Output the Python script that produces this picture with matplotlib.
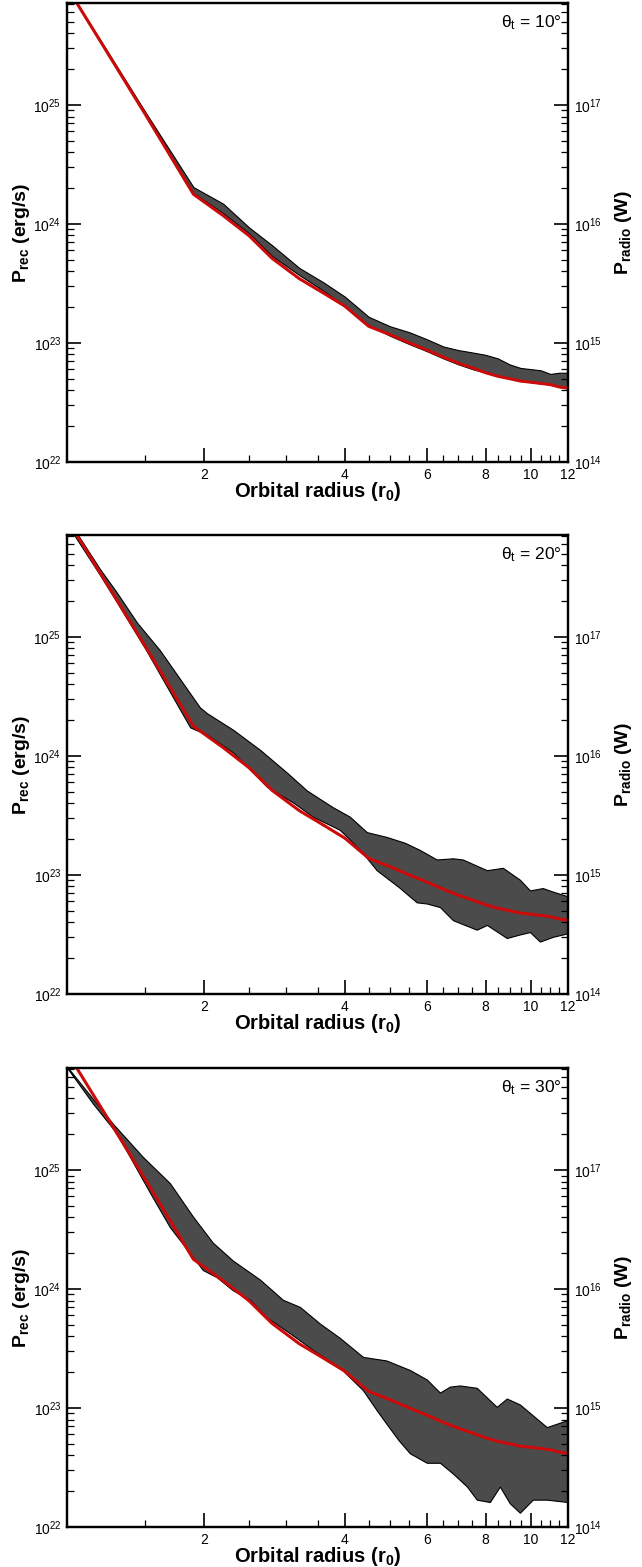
import numpy as np
import matplotlib
matplotlib.use('Agg')
import matplotlib.pyplot as plt
from matplotlib.ticker import FixedLocator, NullFormatter, FuncFormatter, LogLocator

plt.rcParams['font.family'] = ['Liberation Sans', 'DejaVu Sans']
plt.rcParams['mathtext.fontset'] = 'custom'
plt.rcParams['mathtext.rm'] = 'Liberation Sans'
plt.rcParams['mathtext.it'] = 'Liberation Sans:italic'
plt.rcParams['mathtext.bf'] = 'Liberation Sans:bold'

# model curve (red), log10(P_rec / erg s^-1), same in all panels
r_model = [1.02, 1.2, 1.5, 1.9, 2.2, 2.5, 2.8, 3.2, 3.6, 4.0, 4.5, 5.0, 5.5,
           6.0, 6.5, 7.0, 7.5, 8.0, 8.5, 9.0, 9.5, 10.0, 10.5, 11.0, 11.5, 12.0]
logp_model = [25.99, 25.54, 24.92, 24.25, 24.07, 23.90, 23.71, 23.54, 23.42,
              23.31, 23.14, 23.07, 23.00, 22.94, 22.88, 22.83, 22.79, 22.75,
              22.72, 22.70, 22.68, 22.67, 22.66, 22.65, 22.63, 22.62]

# theta_t = 10 deg band (log10 upper / lower)
r_10 = [1.02, 1.2, 1.5, 1.9, 2.2, 2.5, 2.8, 3.2, 3.6, 4.0, 4.5, 5.0, 5.5,
        6.0, 6.5, 7.0, 7.5, 8.0, 8.5, 9.0, 9.5, 10.0, 10.5, 11.0, 11.5, 12.0]
hi_10 = [25.99, 25.55, 24.94, 24.31, 24.17, 23.97, 23.82, 23.63, 23.51, 23.39,
         23.22, 23.14, 23.09, 23.03, 22.97, 22.94, 22.92, 22.90, 22.87, 22.82,
         22.79, 22.78, 22.77, 22.74, 22.75, 22.75]
lo_10 = [25.99, 25.54, 24.93, 24.26, 24.09, 23.92, 23.73, 23.57, 23.44, 23.31,
         23.15, 23.06, 22.99, 22.93, 22.87, 22.82, 22.78, 22.75, 22.72, 22.70,
         22.68, 22.67, 22.66, 22.65, 22.63, 22.62]

# theta_t = 20 deg band
r_20_hi = [1.02, 1.2, 1.3, 1.44, 1.61, 1.96, 2.03, 2.31, 2.64, 3.01, 3.32, 3.77,
           4.10, 4.46, 4.91, 5.38, 5.79, 6.29, 6.81, 7.15, 8.05, 8.71, 9.47,
           9.95, 10.6, 11.14, 12.0]
hi_20 = [26.0, 25.57, 25.38, 25.12, 24.89, 24.41, 24.36, 24.22, 24.05, 23.86,
         23.71, 23.57, 23.49, 23.36, 23.32, 23.27, 23.21, 23.13, 23.14, 23.13,
         23.04, 23.06, 22.96, 22.87, 22.89, 22.86, 22.82]
r_20_lo = [1.02, 1.2, 1.3, 1.5, 1.87, 2.03, 2.31, 2.73, 3.10, 3.42, 3.90, 4.12,
           4.38, 4.68, 5.21, 5.70, 5.99, 6.39, 6.81, 7.66, 8.05, 8.88, 9.47,
           9.95, 10.45, 11.14, 12.0]
lo_20 = [25.95, 25.52, 25.30, 24.90, 24.24, 24.18, 24.03, 23.74, 23.61, 23.49,
         23.38, 23.29, 23.18, 23.04, 22.90, 22.77, 22.76, 22.73, 22.62, 22.54,
         22.58, 22.47, 22.50, 22.52, 22.44, 22.48, 22.51]

# theta_t = 30 deg band
r_30_hi = [1.02, 1.278, 1.482, 1.692, 1.895, 2.09, 2.306, 2.635, 2.95, 3.208,
           3.54, 3.904, 4.375, 4.907, 5.51, 5.99, 6.39, 6.71, 7.05, 7.66, 8.45,
           8.88, 9.47, 10.81, 12.0]
hi_30 = [25.87, 25.39, 25.11, 24.89, 24.61, 24.39, 24.24, 24.08, 23.91, 23.85,
         23.71, 23.59, 23.43, 23.40, 23.32, 23.24, 23.13, 23.18, 23.19, 23.17,
         23.01, 23.08, 23.03, 22.84, 22.90]
r_30_lo = [1.02, 1.158, 1.302, 1.534, 1.692, 1.895, 1.99, 2.13, 2.306, 2.51,
           2.73, 3.05, 3.418, 3.904, 4.375, 4.684, 4.907, 5.213, 5.51, 5.99,
           6.39, 6.81, 7.30, 7.66, 8.17, 8.58, 9.01, 9.47, 10.09, 10.81, 12.0]
lo_30 = [25.86, 25.56, 25.31, 24.81, 24.52, 24.27, 24.16, 24.10, 23.99, 23.91,
         23.76, 23.63, 23.49, 23.34, 23.15, 22.98, 22.87, 22.73, 22.62, 22.54,
         22.54, 22.45, 22.34, 22.23, 22.21, 22.34, 22.20, 22.12, 22.23, 22.23,
         22.21]

panels = [
    ('10', r_10, hi_10, r_10, lo_10),
    ('20', r_20_hi, hi_20, r_20_lo, lo_20),
    ('30', r_30_hi, hi_30, r_30_lo, lo_30),
]

x_major = [2, 4, 6, 8, 10, 12]
x_minor = np.arange(1.5, 12.0, 0.5)
ymin, ymax = 1e22, 7.2e25
radio_factor = 1e-8

fig = plt.figure(figsize=(6.42, 15.67), dpi=100)
bottoms = [0.7052, 0.3657, 0.0255]
left, width, height = 67 / 642, 501 / 642, 459 / 1567


def pow_fmt(v, pos):
    return r'$10^{%d}$' % int(round(np.log10(v)))


def log_yaxis(a):
    a.yaxis.set_major_locator(LogLocator(base=10, numticks=10))
    a.yaxis.set_minor_locator(LogLocator(base=10, subs=np.arange(2, 10), numticks=10))
    a.yaxis.set_major_formatter(FuncFormatter(pow_fmt))
    a.yaxis.set_minor_formatter(NullFormatter())
    a.tick_params(which='both', direction='in', labelsize=10, width=1.2, pad=4)
    a.tick_params(which='major', length=10)
    a.tick_params(which='minor', length=5, width=0.9)
    for s in a.spines.values():
        s.set_linewidth(1.6)


for (ang, r_hi, p_hi, r_lo, p_lo), b in zip(panels, bottoms):
    ax = fig.add_axes([left, b, width, height])
    ax.set_xscale('log')
    ax.set_yscale('log')

    # band on a common grid so fill_between works
    rgrid = np.unique(np.concatenate([r_hi, r_lo]))
    up = np.interp(np.log10(rgrid), np.log10(r_hi), p_hi)
    dn = np.interp(np.log10(rgrid), np.log10(r_lo), p_lo)
    ax.fill_between(rgrid, 10 ** dn, 10 ** up, facecolor='#4b4b4b',
                    edgecolor='black', linewidth=0.8, zorder=2)
    ax.plot(r_model, 10 ** np.array(logp_model), color='#cc0a0a', lw=2.2,
            zorder=3)

    ax.set_xlim(1.02, 12)
    ax.set_ylim(ymin, ymax)

    ax.xaxis.set_major_locator(FixedLocator(x_major))
    ax.xaxis.set_minor_locator(FixedLocator(x_minor))
    ax.xaxis.set_major_formatter(FuncFormatter(lambda v, p: '%d' % v))
    ax.xaxis.set_minor_formatter(NullFormatter())
    log_yaxis(ax)
    ax.tick_params(which='both', top=False, right=False)

    ax.set_xlabel(r'Orbital radius (r$_{\mathbf{0}}$)', fontsize=14.5,
                  fontweight='bold', labelpad=-1)
    ax.set_ylabel(r'P$_{\mathbf{rec}}$ (erg/s)', fontsize=14,
                  fontweight='bold', labelpad=1)
    ax.text(0.988, 0.978, r'$\mathregular{\theta_t}$ = %s°' % ang,
            transform=ax.transAxes, ha='right', va='top', fontsize=12.5)

    ax2 = ax.twinx()
    ax2.set_yscale('log')
    ax2.set_ylim(ymin * radio_factor, ymax * radio_factor)
    log_yaxis(ax2)
    ax2.tick_params(which='both', left=False, right=True)
    ax2.set_ylabel(r'P$_{\mathbf{radio}}$ (W)', fontsize=14,
                   fontweight='bold', labelpad=8)

fig.savefig('out.png', dpi=100)
